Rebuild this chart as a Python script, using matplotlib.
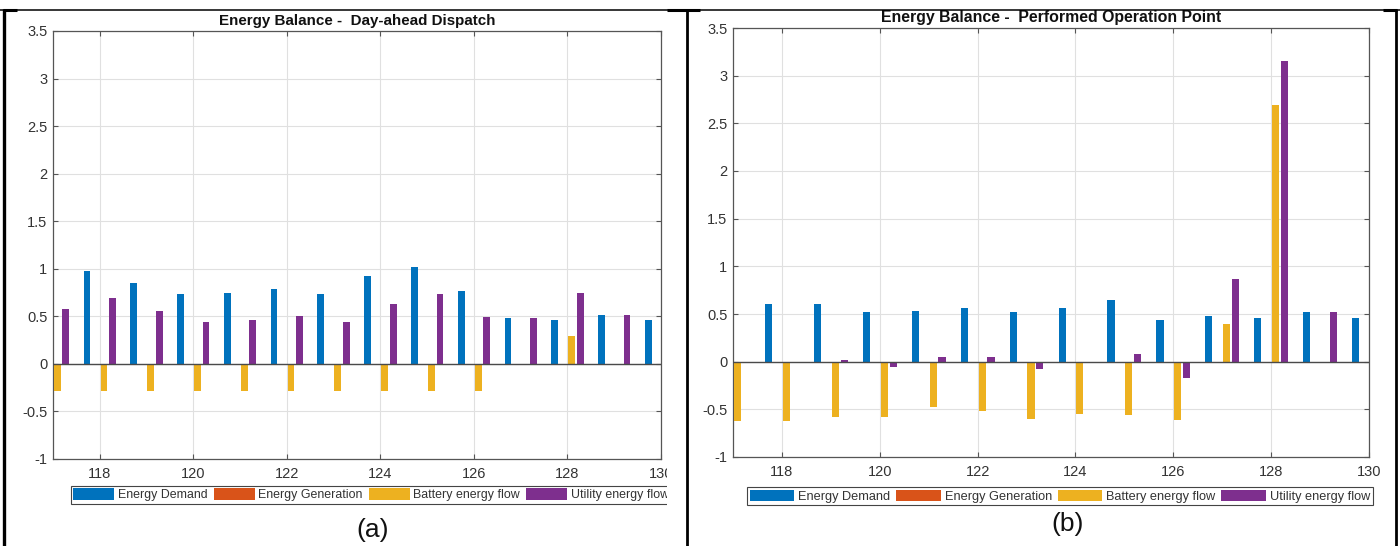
import matplotlib
matplotlib.use("Agg")
import matplotlib.pyplot as plt
from matplotlib.lines import Line2D
from matplotlib.patches import Rectangle
import numpy as np

plt.rcParams['font.family'] = ['Liberation Sans', 'DejaVu Sans']
plt.rcParams['axes.unicode_minus'] = False

# ---------------- data ----------------
groups = [117, 118, 119, 120, 121, 122, 123, 124, 125, 126, 127, 128, 129, 130]
series_names = ["Energy Demand", "Energy Generation", "Battery energy flow", "Utility energy flow"]
series_colors = ["#0072BD", "#D95319", "#EDB120", "#7E2F8E"]

# (a) Day-ahead dispatch
demand_a = [0.50, 0.98, 0.85, 0.73, 0.75, 0.79, 0.73, 0.92, 1.02, 0.77, 0.48, 0.46, 0.51, 0.46]
generation_a = [0, 0, 0, 0, 0, 0, 0, 0, 0, 0, 0, 0, 0, 0]
battery_a = [-0.28, -0.28, -0.28, -0.28, -0.28, -0.28, -0.28, -0.28, -0.28, -0.28, 0.0, 0.29, 0.0, 0.0]
utility_a = [0.58, 0.69, 0.56, 0.44, 0.46, 0.50, 0.44, 0.63, 0.74, 0.49, 0.48, 0.75, 0.51, 0.50]

# (b) Performed operation point
demand_b = [0.50, 0.61, 0.60, 0.52, 0.53, 0.56, 0.52, 0.56, 0.645, 0.44, 0.48, 0.46, 0.52, 0.46]
generation_b = [0, 0, 0, 0, 0, 0, 0, 0, 0, 0, 0, 0, 0, 0]
battery_b = [-0.62, -0.62, -0.58, -0.585, -0.48, -0.515, -0.60, -0.55, -0.56, -0.61, 0.39, 2.69, 0.0, 0.0]
utility_b = [0.0, -0.007, 0.02, -0.06, 0.045, 0.05, -0.077, 0.0, 0.084, -0.167, 0.868, 3.15, 0.516, 0.50]

title_a = "Energy Balance -  Day-ahead Dispatch"
title_b = "Energy Balance -  Performed Operation Point"
panel_labels = ["(a)", "(b)"]

xticks = [118, 120, 122, 124, 126, 128, 130]
xtick_labels = ["118", "120", "122", "124", "126", "128", "130"]
yticks = [-1, -0.5, 0, 0.5, 1, 1.5, 2, 2.5, 3, 3.5]
ytick_labels = ["-1", "-0.5", "0", "0.5", "1", "1.5", "2", "2.5", "3", "3.5"]

# ---------------- figure ----------------
W, H = 1400, 546
fig = plt.figure(figsize=(W / 100, H / 100), dpi=100)

def fx(px):
    return px / W

def fy(py):
    return 1 - py / H

n = 4
group_w = min(0.8, n / (n + 1.5))
step = group_w / n
bar_w = 0.8 * step
offsets = [(-(n - 1) / 2 + i) * step for i in range(n)]

spine_col = "#555555"
text_col = "#333333"

def draw_panel(rect, title, title_size, series, legend_xy, leg_fs, leg_hl, leg_cs):
    ax = fig.add_axes(rect)
    x = np.array(groups, dtype=float)
    handles = []
    for i, vals in enumerate(series):
        h = ax.bar(x + offsets[i], vals, width=bar_w, color=series_colors[i],
                   edgecolor='none', label=series_names[i], zorder=3)
        handles.append(h)
    ax.axhline(0, color="#4a4a4a", lw=1.0, zorder=4)
    ax.set_xlim(117, 130)
    ax.set_ylim(-1, 3.5)
    ax.set_xticks(xticks)
    ax.set_xticklabels(xtick_labels)
    ax.set_yticks(yticks)
    ax.set_yticklabels(ytick_labels)
    ax.grid(True, color="#e0e0e0", lw=0.8, zorder=0)
    ax.set_axisbelow(True)
    for s in ax.spines.values():
        s.set_color(spine_col)
        s.set_linewidth(0.9)
    ax.tick_params(axis='both', direction='in', length=3.5, width=0.8,
                   color=spine_col, labelcolor=text_col, labelsize=10.5,
                   top=True, right=True)
    ax.tick_params(axis='x', pad=6)
    ax.tick_params(axis='y', pad=4)
    ax.set_title(title, fontsize=title_size, fontweight='bold', color="#111111", pad=4)
    leg = fig.legend(handles=handles, labels=series_names, loc='upper left',
                     bbox_to_anchor=legend_xy, bbox_transform=fig.transFigure,
                     ncol=4, fontsize=leg_fs, handlelength=leg_hl, handleheight=1.0,
                     handletextpad=0.3, columnspacing=leg_cs, borderpad=0.2,
                     borderaxespad=0, frameon=True, fancybox=False,
                     framealpha=1, edgecolor="#444444")
    leg.get_frame().set_linewidth(0.8)
    for t in leg.get_texts():
        t.set_color(text_col)
    return ax

ax_a = draw_panel([fx(53), fy(459), fx(661) - fx(53), fy(31) - fy(459)], title_a, 10.9,
                  [demand_a, generation_a, battery_a, utility_a], (fx(71), fy(486)),
                  8.9, 3.3, 0.5)
ax_b = draw_panel([fx(733), fy(457), fx(1369) - fx(733), fy(28) - fy(457)], title_b, 11.4,
                  [demand_b, generation_b, battery_b, utility_b], (fx(747), fy(487)),
                  9.2, 3.5, 0.45)

# cropped edge of panel (a)
fig.add_artist(Rectangle((fx(667), 0), fx(685) - fx(667), fy(462), transform=fig.transFigure,
                         facecolor='white', edgecolor='none', zorder=20))

# panel labels
fig.text(fx(373), fy(530), panel_labels[0], fontsize=19, ha='center', va='center', color="#111111")
fig.text(fx(1068), fy(524), panel_labels[1], fontsize=19, ha='center', va='center', color="#111111")

# table borders
def fline(xs, ys, lw):
    fig.add_artist(Line2D([fx(v) for v in xs], [fy(v) for v in ys], transform=fig.transFigure,
                          color='black', lw=lw, zorder=30, solid_capstyle='butt'))

fline([0, 1400], [9.5, 9.5], 1.1)
fline([3, 17], [10, 10], 2.2)
fline([667, 700], [10, 10], 2.2)
fline([1383, 1397], [10, 10], 2.2)
fline([3.5, 3.5], [9, 546], 2.4)
fline([687, 687], [9, 546], 2.0)
fline([1396, 1396], [9, 546], 2.0)

fig.savefig("out.png", dpi=100)
